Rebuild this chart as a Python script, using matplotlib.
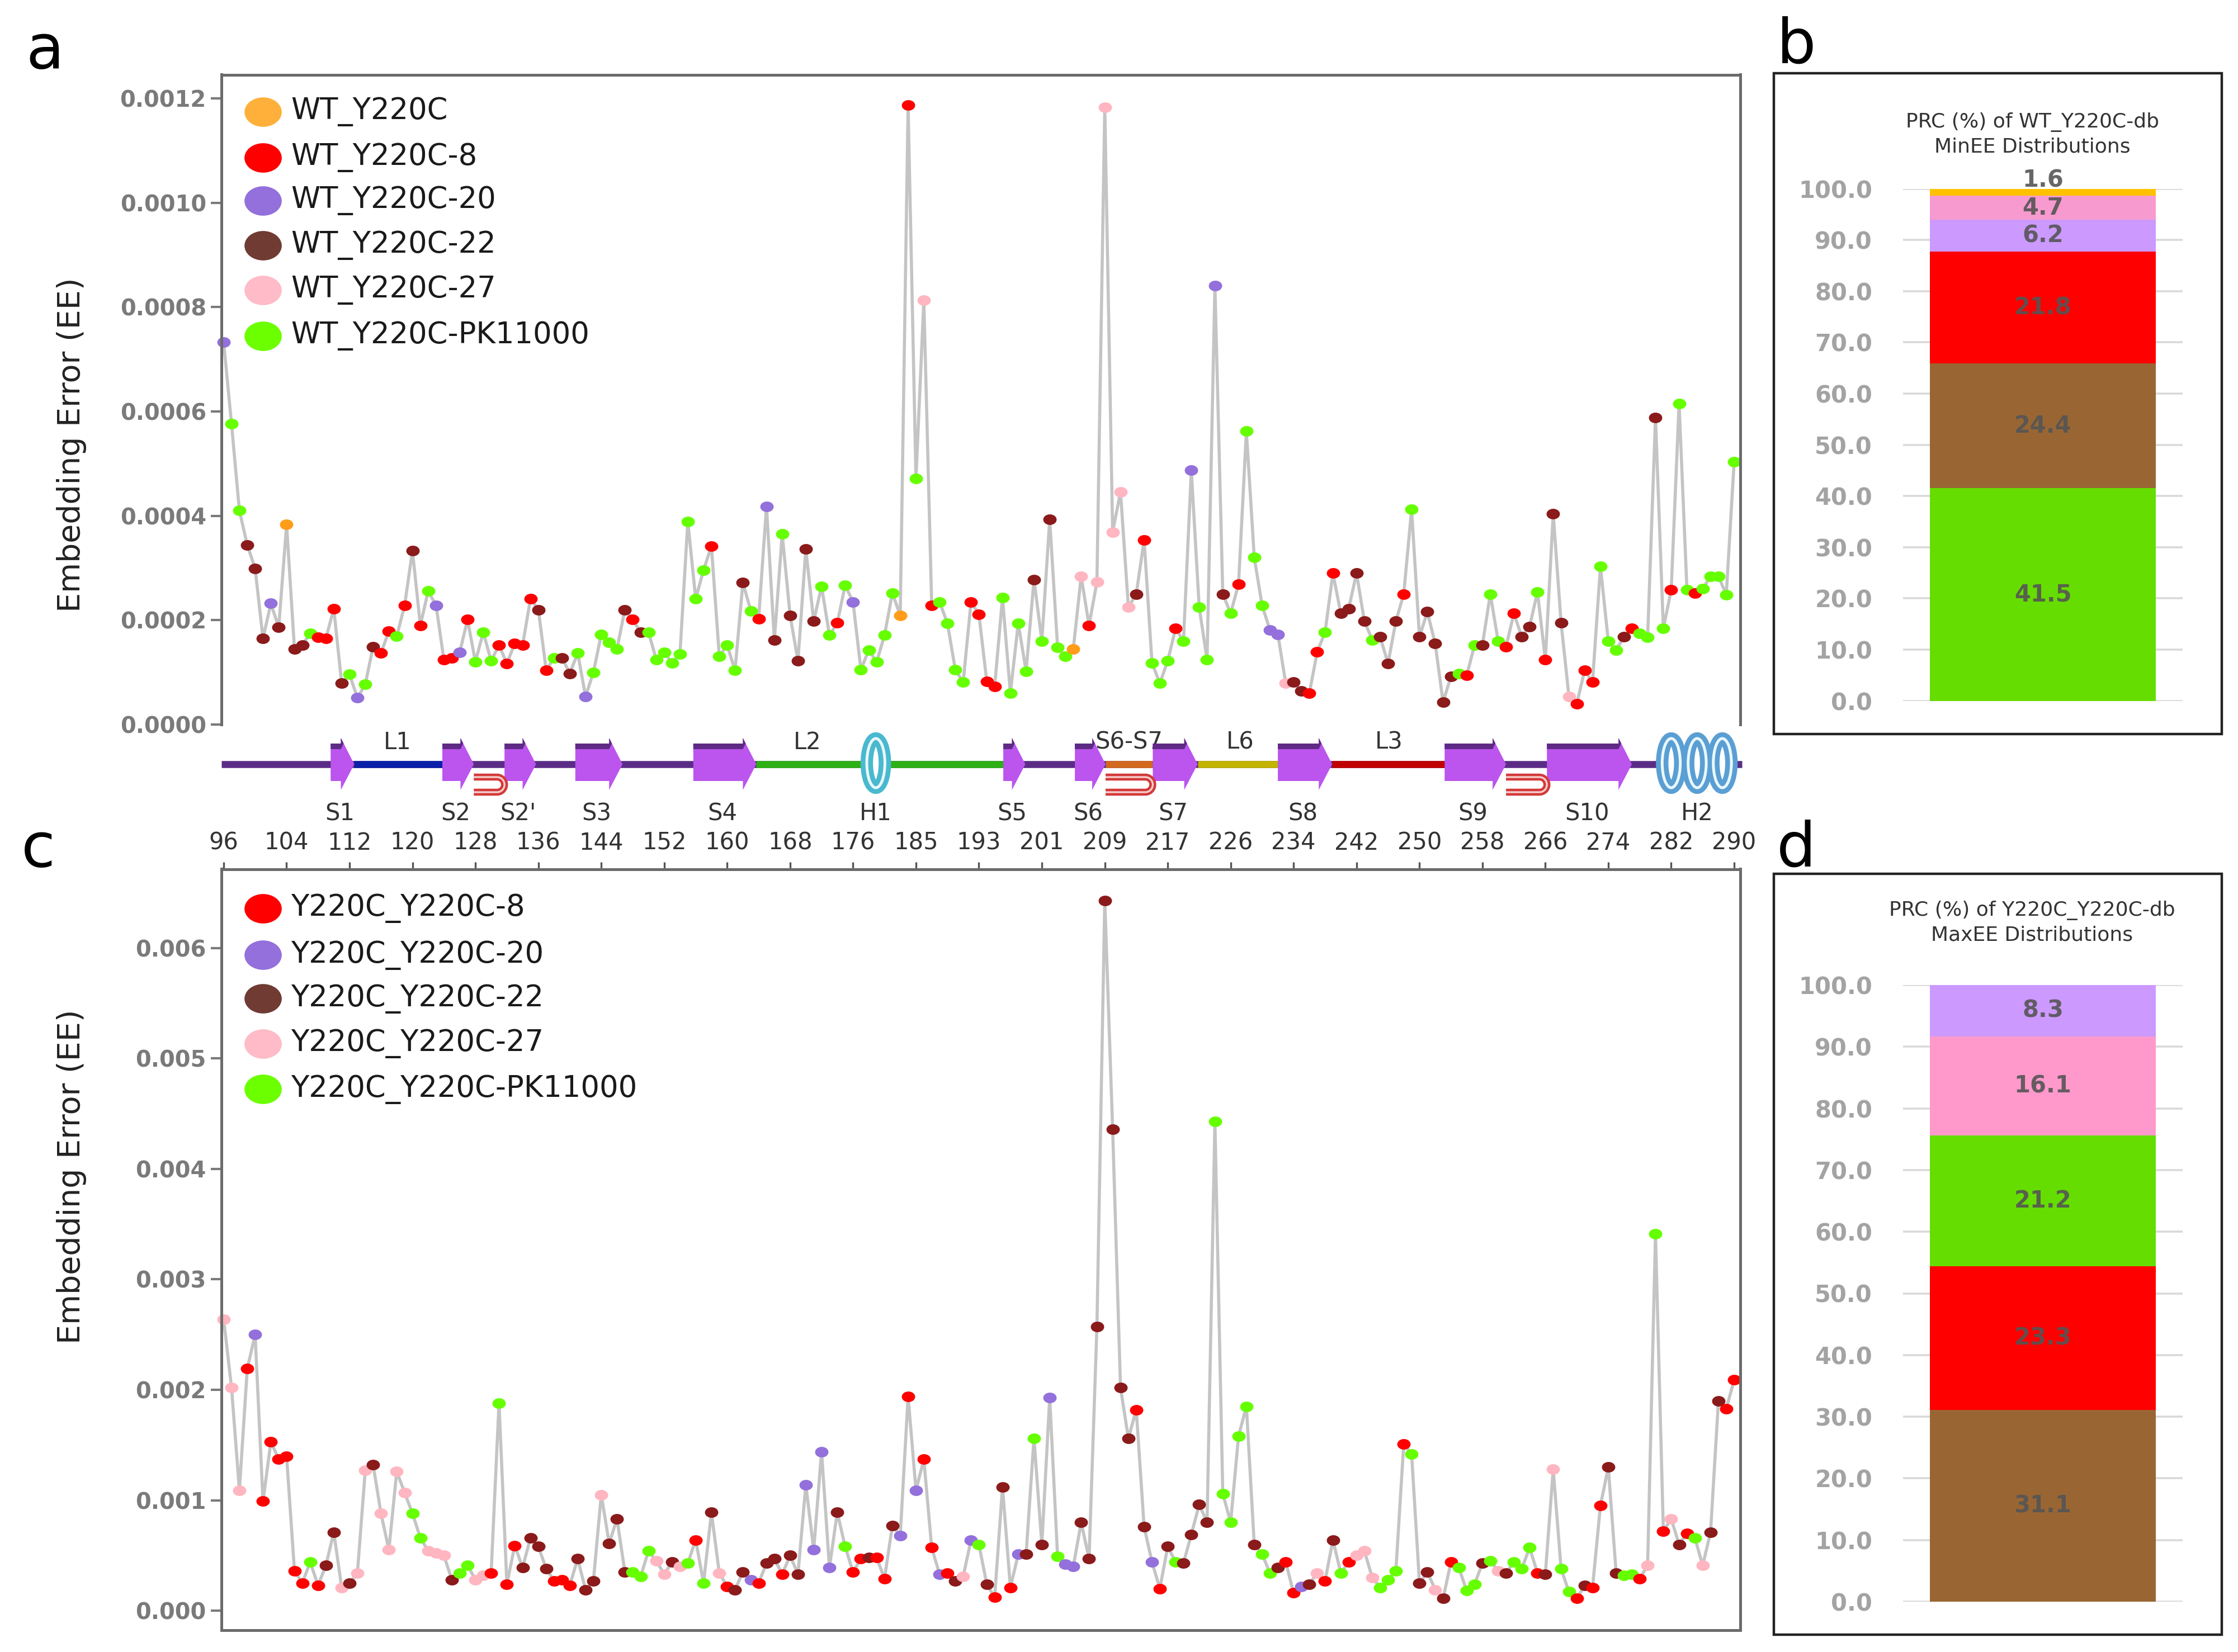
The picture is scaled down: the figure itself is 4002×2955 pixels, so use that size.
import numpy as np
import matplotlib
matplotlib.use("Agg")
import matplotlib.pyplot as plt
from matplotlib.path import Path
from matplotlib.lines import Line2D
from matplotlib.patches import Rectangle, Ellipse, Polygon, PathPatch
from matplotlib.ticker import FormatStrFormatter

# ---------------- data ----------------
# residue labels on the shared axis (one label every 8 points, 193 points)
residue_ticks = [96, 104, 112, 120, 128, 136, 144, 152, 160, 168, 176, 185, 193,
                 201, 209, 217, 226, 234, 242, 250, 258, 266, 274, 282, 290]

# group codes: o = WT_Y220C, r = -8, p = -20, b = -22, k = -27, g = -PK11000
series_a = {"o": "WT_Y220C", "r": "WT_Y220C-8", "p": "WT_Y220C-20",
            "b": "WT_Y220C-22", "k": "WT_Y220C-27", "g": "WT_Y220C-PK11000"}
series_c = {"r": "Y220C_Y220C-8", "p": "Y220C_Y220C-20", "b": "Y220C_Y220C-22",
            "k": "Y220C_Y220C-27", "g": "Y220C_Y220C-PK11000"}

# panel a: min embedding error (x 1e-4)
ee_a = [7.33, 5.76, 4.10, 3.44, 2.99, 1.65, 2.32, 1.86, 3.83, 1.45,
        1.52, 1.75, 1.67, 1.65, 2.22, 0.79, 0.96, 0.51, 0.77, 1.49,
        1.37, 1.79, 1.69, 2.28, 3.33, 1.90, 2.56, 2.28, 1.24, 1.28,
        1.38, 2.01, 1.20, 1.77, 1.22, 1.52, 1.17, 1.55, 1.52, 2.41,
        2.20, 1.04, 1.28, 1.28, 0.98, 1.37, 0.54, 1.00, 1.73, 1.58,
        1.45, 2.20, 2.01, 1.77, 1.77, 1.24, 1.38, 1.18, 1.35, 3.89,
        2.41, 2.96, 3.42, 1.31, 1.52, 1.04, 2.72, 2.18, 2.03, 4.18,
        1.62, 3.65, 2.09, 1.22, 3.36, 1.98, 2.65, 1.71, 1.95, 2.67,
        2.35, 1.05, 1.43, 1.20, 1.71, 2.52, 2.09, 11.87, 4.71, 8.13,
        2.28, 2.35, 1.94, 1.05, 0.81, 2.35, 2.11, 0.83, 0.73, 2.43,
        0.60, 1.94, 1.02, 2.78, 1.60, 3.93, 1.48, 1.31, 1.45, 2.84,
        1.90, 2.73, 11.83, 3.69, 4.46, 2.25, 2.50, 3.54, 1.18, 0.79,
        1.22, 1.84, 1.60, 4.87, 2.25, 1.24,
        8.41, 2.50, 2.13, 2.69, 5.62, 3.20, 2.28, 1.81, 1.73, 0.79,
        0.81, 0.64, 0.60, 1.39, 1.77, 2.90, 2.13, 2.22, 2.90, 1.98,
        1.62, 1.68, 1.17, 1.98, 2.50, 4.12, 1.68, 2.16, 1.55, 0.43,
        0.92, 0.98, 0.94, 1.52, 1.52, 2.50, 1.60, 1.49, 2.13, 1.68,
        1.88, 2.54, 1.24, 4.04, 1.95, 0.54, 0.40, 1.04, 0.81, 3.03,
        1.60, 1.43, 1.68, 1.84, 1.75, 1.67, 5.88, 1.84, 2.58, 6.15,
        2.58, 2.52, 2.60, 2.84, 2.84, 2.49, 5.04]
grp_a = ("p g g b b b p b o b b g r r r b g p g b r r g r b r g p r r "
         "p r g g g r r r r r b r g b b g p g g g "
         "g b r b g g g g g g g g r g g g b g r p b g b b b b g g r g "
         "p g g g g g o r g k r g g g g r r r r g g g g b g b g g o k "
         "r k k k k k b r g g g r g p g g "
         "p b g r g g g p p k b b r r g r b b b b g b b b r g b b b b "
         "b g r g b g g r r b b g r b b k r r r g g g b r g g b g r g "
         "g r g g g g g").split()

# panel c: max embedding error (x 1e-3)
ee_c = [2.64, 2.02, 1.09, 2.19, 2.50, 0.99, 1.53, 1.37, 1.40, 0.36,
        0.25, 0.44, 0.23, 0.41, 0.71, 0.21, 0.25, 0.34, 1.27, 1.32,
        0.88, 0.55, 1.26, 1.07, 0.88, 0.66, 0.54, 0.52, 0.50, 0.28,
        0.34, 0.41, 0.28, 0.32, 0.34, 1.88, 0.24, 0.59, 0.39, 0.66,
        0.58, 0.38, 0.27, 0.28, 0.23, 0.47, 0.19, 0.27, 1.05, 0.61,
        0.83,
        0.35, 0.35, 0.31, 0.54, 0.45, 0.33, 0.44, 0.40, 0.43, 0.64,
        0.25, 0.89, 0.34, 0.22, 0.19, 0.35, 0.28, 0.25, 0.43, 0.47,
        0.33, 0.50, 0.33, 1.14, 0.55, 1.44, 0.39, 0.89, 0.58, 0.35,
        0.47, 0.48, 0.48, 0.29, 0.77, 0.68, 1.94, 1.09, 1.37, 0.57,
        0.33, 0.34, 0.27, 0.31, 0.64, 0.60, 0.24, 0.12, 1.12, 0.21,
        0.51, 0.51, 1.56, 0.60, 1.93, 0.49, 0.42, 0.40, 0.80, 0.47,
        2.57, 6.43, 4.36, 2.02, 1.56, 1.82, 0.76, 0.44, 0.20, 0.58,
        0.44, 0.43, 0.69, 0.96,
        0.80, 4.43, 1.06, 0.80, 1.58, 1.85, 0.60, 0.51, 0.34, 0.39,
        0.44, 0.16, 0.22, 0.24, 0.34, 0.27, 0.64, 0.34, 0.44, 0.50,
        0.54, 0.30, 0.21, 0.28, 0.36, 1.51, 1.42, 0.25, 0.35, 0.19,
        0.11, 0.44, 0.39, 0.18, 0.24, 0.43, 0.45, 0.36, 0.34, 0.44,
        0.38, 0.57, 0.34, 0.33, 1.28, 0.38, 0.17, 0.11, 0.23, 0.21,
        0.95, 1.30, 0.34, 0.32, 0.33, 0.29, 0.41, 3.41, 0.72, 0.83,
        0.60, 0.70, 0.66, 0.41, 0.71, 1.90, 1.83, 2.09]
grp_c = ("k k k r p r r r r r r g r b b k b k k b k k k k g g k k k b "
         "g g k k r g r r b b b b r r r b b b k b b "
         "b g g g k k b k g r g b k r b b p r b b r b b p p p p b g r "
         "r b r r b p r p r r p r b k p g b r b r p b g b p g p p b b "
         "b b b b b r b p r b g b b b "
         "b g g g g g b g g b r r p b k r b g r k k k g g g r g b b k "
         "b r g g g b g k b g g g r b k g g r b r r b b g g r k g r k "
         "b r g k b b r r").split()

# panels b and d: stacked percentage bars (bottom to top)
prc_b_names = ["PK11000", "-22", "-8", "-20", "-27", "WT"]
prc_b = [41.5, 24.4, 21.8, 6.2, 4.7, 1.6]
prc_b_colors = ["#66DD00", "#996633", "#FF0000", "#CC99FF", "#F79ACF", "#FFC000"]
prc_d_names = ["-22", "-8", "PK11000", "-27", "-20"]
prc_d = [31.1, 23.3, 21.2, 16.1, 8.3]
prc_d_colors = ["#996633", "#FF0000", "#66DD00", "#FF99CC", "#CC99FF"]

# secondary structure along the sequence (in point index units)
strands = [("S1", 13.6, 16.6), ("S2", 27.8, 31.8), ("S2'", 35.7, 39.7),
           ("S3", 44.7, 50.7), ("S4", 59.7, 67.7), ("S5", 99.1, 101.9),
           ("S6", 108.2, 112.1), ("S7", 118.1, 123.8), ("S8", 134.0, 140.9),
           ("S9", 155.2, 163.0), ("S10", 168.2, 179.0)]
loops = [("L1", 16.6, 27.8, "#0A1EA8"), ("L2", 67.7, 99.1, "#2DB014"),
         ("S6-S7", 112.1, 118.1, "#D2691E"), ("L6", 123.8, 134.0, "#C2B400"),
         ("L3", 140.9, 155.2, "#C00000")]
loop_label_x = {"L1": 22.1, "L2": 74.2, "S6-S7": 115.1, "L6": 129.2, "L3": 148.1}
helices = [("H1", [82.9], "#49B9CF"), ("H2", [184.0, 187.3, 190.5], "#5A9FD4")]
hairpins = [(31.8, 35.7), (112.1, 118.1), (163.0, 168.2)]

point_colors = {"o": "#FF9D1A", "r": "#FF0000", "p": "#9370DB",
                "b": "#8B1A1A", "k": "#FFB6C1", "g": "#66FF00"}
legend_colors = {"o": "#FFB03B", "r": "#FF0000", "p": "#9370DB",
                 "b": "#6F3B33", "k": "#FFBBC8", "g": "#6CFF00"}

# ---------------- layout helpers ----------------
W, H = 4002, 2955


def fx(x):
    return x / W


def fy(y):
    return 1 - y / H


circ = Path.unit_circle()
ellipse_marker = Path(circ.vertices * np.array([1.0, 0.79]), circ.codes)

fig = plt.figure(figsize=(W / 200, H / 200), dpi=200)
plt.rcParams["font.family"] = ["DejaVu Sans"]

x_left, x_right = 396, 3112
xlim = (-0.28, 192.78)
spine_col = "#6b6b6b"
label_col = "#333333"


def draw_series(ax, vals, grps, scale):
    x = np.arange(len(vals))
    y = np.array(vals) * scale
    ax.plot(x, y, color="#c4c4c4", lw=2.0, zorder=1, clip_on=False)
    for i in range(len(vals)):
        ax.plot(x[i], y[i], linestyle="none", marker=ellipse_marker, ms=8.6,
                color=point_colors[grps[i]], mew=0, zorder=2, clip_on=False)


def style_y(ax, fmt):
    ax.yaxis.set_major_formatter(FormatStrFormatter(fmt))
    ax.tick_params(axis="y", direction="out", length=6.8, width=1.5,
                   colors="#7a7a7a", labelsize=14.4, pad=3)
    for t in ax.get_yticklabels():
        t.set_fontweight("bold")


def draw_legend(series, ys):
    for (code, name), y in zip(series.items(), ys):
        fig.add_artist(Line2D([fx(470)], [fy(y)], transform=fig.transFigure,
                              linestyle="none", marker=ellipse_marker, ms=24,
                              color=legend_colors[code], mew=0))
        fig.text(fx(520), fy(y), name, fontsize=19, color="#1a1a1a",
                 ha="left", va="center")


# ---------------- panel a ----------------
ax_a = fig.add_axes([fx(x_left), fy(1296), fx(x_right - x_left), (1296 - 133.5) / H])
draw_series(ax_a, ee_a, grp_a, 1e-4)
ax_a.set_xlim(*xlim)
ax_a.set_ylim(0, 0.0012454)
ax_a.set_yticks(np.arange(0, 0.00121, 0.0002))
ax_a.set_xticks([])
ax_a.spines["bottom"].set_visible(False)
for s in ["top", "left", "right"]:
    ax_a.spines[s].set_color(spine_col)
    ax_a.spines[s].set_linewidth(1.8)
style_y(ax_a, "%.4f")
draw_legend(series_a, [199.6, 281.8, 359.0, 438.8, 518.5, 600.6])

# ---------------- topology strip ----------------
ax_s = fig.add_axes([fx(x_left), fy(1480), fx(x_right - x_left), 180 / H])
ax_s.set_xlim(*xlim)
ax_s.set_ylim(0, 180)
ax_s.axis("off")
line_y = 113
ax_s.plot([-0.3, 193.0], [line_y, line_y], color="#5B2C86", lw=4.5,
          solid_capstyle="butt", zorder=1, clip_on=False)
for name, x0, x1, c in loops:
    ax_s.plot([x0, x1], [line_y, line_y], color=c, lw=4.5,
              solid_capstyle="butt", zorder=2)
    ax_s.text(loop_label_x[name], 152, name, fontsize=15, color=label_col,
              ha="center", va="center")
for name, x0, x1 in strands:
    xh = x1 - 1.7
    body = [(x0, 83), (xh, 83), (xh, 67), (x1, line_y), (xh, 160), (xh, 150), (x0, 150)]
    ax_s.add_patch(Polygon(body, closed=True, fc="#BB55EE", ec="none", zorder=3))
    ax_s.add_patch(Polygon([(x0, 140), (xh, 140), (xh + 0.35, 150), (xh, 160),
                            (xh, 150), (x0, 150)],
                           closed=True, fc="#5E2A84", ec="none", zorder=4))
    ax_s.text((x0 + x1) / 2 - 0.3, 25, name, fontsize=15, color=label_col,
              ha="center", va="center")
for name, centers, c in helices:
    for cx in centers:
        ax_s.add_patch(Ellipse((cx, 115), 2.3, 88, fc="white", ec=c, lw=8, zorder=5))
        ax_s.add_patch(Ellipse((cx, 115), 2.3, 88, fill=False, ec="#EAF8FC",
                               lw=1.8, zorder=6))
    ax_s.text(np.mean(centers), 25, name, fontsize=15, color=label_col,
              ha="center", va="center")
for x0, x1 in hairpins:
    rx, ry, cy = 0.95, 13.5, 76.5
    t = np.linspace(np.pi / 2, -np.pi / 2, 30)
    pts = [(x0, cy + ry)] + list(zip(x1 - rx + rx * np.cos(t), cy + ry * np.sin(t))) \
        + [(x0, cy - ry)]
    ax_s.add_patch(PathPatch(Path(pts), fill=False, ec="#D43A3A", lw=4.5, zorder=3))
    ax_s.add_patch(PathPatch(Path(pts), fill=False, ec="#F6D0D0", lw=1.2, zorder=4))

# ---------------- panel c ----------------
ax_c = fig.add_axes([fx(x_left), fy(2916), fx(x_right - x_left), (2916 - 1554.5) / H])
draw_series(ax_c, ee_c, grp_c, 1e-3)
ax_c.set_xlim(*xlim)
ax_c.set_ylim(-0.000177, 0.006716)
ax_c.set_yticks(np.arange(0, 0.0061, 0.001))
ax_c.set_xticks(np.arange(0, 193, 8))
ax_c.set_xticklabels([str(r) for r in residue_ticks])
ax_c.tick_params(axis="x", top=True, bottom=False, labeltop=True, labelbottom=False,
                 direction="out", length=4.7, width=1.2, colors="#555555",
                 labelcolor=label_col, labelsize=15, pad=4.5)
for s in ax_c.spines.values():
    s.set_color(spine_col)
    s.set_linewidth(1.8)
style_y(ax_c, "%.3f")
draw_legend(series_c, [1625.0, 1708.4, 1786.3, 1866.9, 1948.4])

# y labels and panel letters
for yc in [796, 2105]:
    fig.text(fx(128), fy(yc), "Embedding Error (EE)", rotation=90, fontsize=20,
             color="#222222", ha="center", va="center")
for letter, x, y in [("a", 46, 122), ("b", 3177, 113), ("c", 38, 1550), ("d", 3177, 1550)]:
    fig.text(fx(x), fy(y), letter, fontsize=40, color="black", ha="left", va="baseline")


# ---------------- panels b and d ----------------
def draw_prc(box, bar_area, title, title_y, values, colors):
    bx0, by0, bx1, by1 = box
    fig.add_artist(Rectangle((fx(bx0), fy(by1)), fx(bx1 - bx0), (by1 - by0) / H,
                             transform=fig.transFigure, fill=False, ec="#222222", lw=1.6))
    ax0, ay0, ax1, ay1 = bar_area
    ax = fig.add_axes([fx(ax0), fy(ay1), fx(ax1 - ax0), (ay1 - ay0) / H])
    bottom = 0
    for v, c in zip(values, colors):
        ax.bar(0, v, width=0.81, bottom=bottom, color=c, zorder=2)
        yc = bottom + v / 2 if v > 3 else bottom + v + 1.5
        ax.text(0, yc, f"{v:.1f}", ha="center", va="center", fontsize=15,
                fontweight="bold", color="#555555", alpha=0.9, zorder=3)
        bottom += v
    ax.set_xlim(-0.5, 0.5)
    ax.set_ylim(0, 100)
    ax.set_yticks(np.arange(0, 101, 10))
    ax.yaxis.set_major_formatter(FormatStrFormatter("%.1f"))
    ax.set_xticks([])
    ax.tick_params(axis="y", length=0, pad=19.8, labelsize=15, colors="#a3a3a3")
    for t in ax.get_yticklabels():
        t.set_fontweight("bold")
    ax.grid(axis="y", color="#d9d9d9", lw=1.3, zorder=0)
    ax.set_axisbelow(True)
    for s in ax.spines.values():
        s.set_visible(False)
    fig.text(fx(3634), fy(title_y), title, ha="center", va="center", fontsize=13,
             color="#333333", linespacing=1.35)


draw_prc((3172, 131, 3973, 1313), (3403, 337.6, 3903, 1253.6),
         "PRC (%) of WT_Y220C-db\nMinEE Distributions", 240, prc_b, prc_b_colors)
draw_prc((3172, 1563, 3973, 2924), (3403, 1762, 3903, 2865),
         "PRC (%) of Y220C_Y220C-db\nMaxEE Distributions", 1650, prc_d, prc_d_colors)

fig.savefig("out.png", dpi=200)
